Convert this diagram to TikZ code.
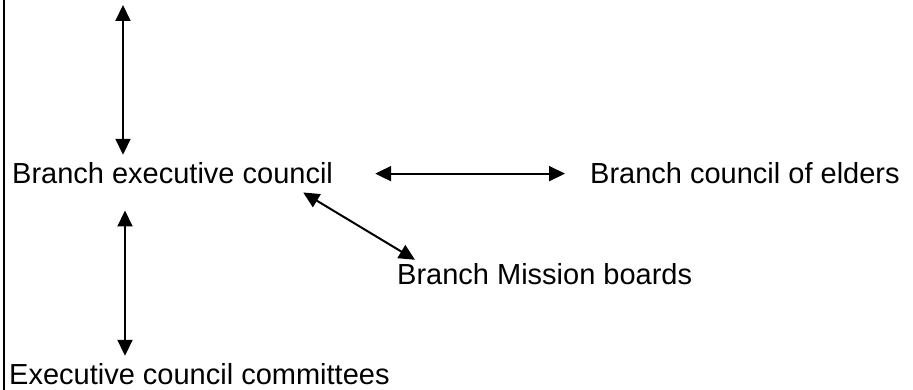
\documentclass[tikz,border=0pt]{standalone}
\usepackage{fontspec}
\setmainfont{Liberation Sans}
\usetikzlibrary{arrows.meta}

\begin{document}
\begin{tikzpicture}[x=1pt, y=-1pt,
    unit/.style={anchor=base west, inner sep=0pt, font=\fontsize{29}{35}\selectfont},
    link/.style={line width=2pt, {Triangle[length=16pt,width=15pt]}-{Triangle[length=16pt,width=15pt]}}]
    \useasboundingbox (0, 0) rectangle (913, 390);

    \draw[line width=2pt] (4, 0) -- (4, 390);

    \node[unit] (exec) at (12, 184) {Branch executive council};
    \node[unit] (elders) at (590, 184) {Branch council of elders};
    \node[unit] (mission) at (397, 284) {Branch Mission boards};
    \node[unit] (committees) at (9, 384) {Executive council committees};
    \coordinate (topend) at (123, 5);

    \draw[link] (topend) -- ([shift={(111, -8)}]exec.north west);
    \draw[link] ([xshift=42]exec.east) -- ([xshift=-25]elders.west);
    \draw[link] ([shift={(-30, 8)}]exec.south east) -- ([shift={(18, -3)}]mission.north west);
    \draw[link] ([shift={(113, 26)}]exec.south west) -- ([shift={(116, -7)}]committees.north west);

\end{tikzpicture}
\end{document}
